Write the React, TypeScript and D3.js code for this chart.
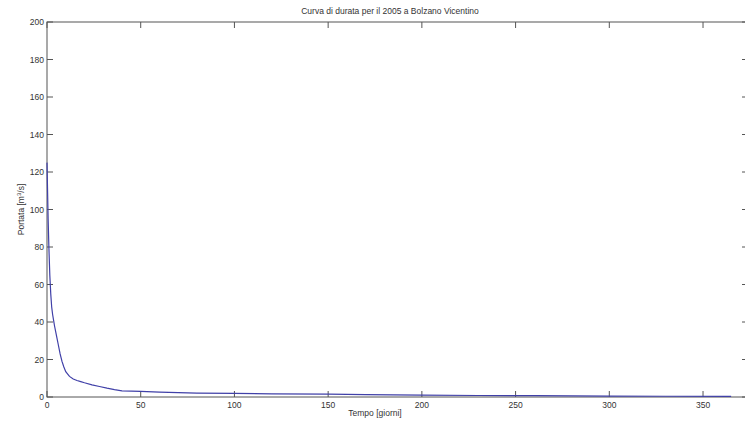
import React from "react";
import * as d3 from "d3";

// giorni e portata letti a occhio dalla curva di durata
const days = [0, 0.3, 0.6, 1, 1.5, 2, 2.5, 3, 3.5, 4, 5, 6, 7, 8, 9, 10, 12, 14, 16, 18, 20, 24, 28, 32, 36, 40, 45, 50, 60, 70, 80, 100, 120, 150, 170, 200, 230, 260, 300, 330, 365];
const flow = [125, 110, 95, 80, 65, 55, 48, 44, 41, 38, 33, 28, 23, 19, 16, 13.5, 11, 9.6, 8.8, 8.2, 7.6, 6.5, 5.6, 4.7, 3.9, 3.3, 3.1, 3.0, 2.6, 2.3, 2.1, 1.9, 1.7, 1.5, 1.3, 1.0, 0.8, 0.7, 0.5, 0.4, 0.3];
const xTicks = [0, 50, 100, 150, 200, 250, 300, 350];
const yTicks = [0, 20, 40, 60, 80, 100, 120, 140, 160, 180, 200];

const W = 745, H = 425;
const left = 47, right = 748, top = 22, bottom = 397;
const axisColor = "#555";
const font = "Liberation Sans, Arial, sans-serif";

export default function App() {
  const x = d3.scaleLinear().domain([0, 374]).range([left, right]);
  const y = d3.scaleLinear().domain([0, 200]).range([bottom, top]);
  const pts: [number, number][] = days.map((d, i) => [d, flow[i]]);
  const line = d3.line<[number, number]>().x(d => x(d[0])).y(d => y(d[1]));
  const tl = 6;

  return (
    <svg width={W} height={H} style={{ position: "absolute", left: 0, top: 0, background: "#fff" }}>
      <text x={390} y={14} fontSize={8.5} fontFamily={font} textAnchor="middle" fill="#333">
        Curva di durata per il 2005 a Bolzano Vicentino
      </text>
      <g stroke={axisColor} strokeWidth={1} fill="none">
        <rect x={left} y={top} width={right - left} height={bottom - top} />
        {xTicks.map(t => (
          <g key={"xt" + t}>
            <line x1={x(t)} x2={x(t)} y1={bottom} y2={bottom - tl} />
            <line x1={x(t)} x2={x(t)} y1={top} y2={top + tl} />
          </g>
        ))}
        {yTicks.map(t => (
          <g key={"yt" + t}>
            <line x1={left} x2={left + tl} y1={y(t)} y2={y(t)} />
            <line x1={right} x2={right - tl} y1={y(t)} y2={y(t)} />
          </g>
        ))}
      </g>
      <path d={line(pts) ?? ""} fill="none" stroke="#4040a8" strokeWidth={1.2} />
      <g fontFamily={font} fontSize={8.5} fill="#333">
        {xTicks.map(t => (
          <text key={"xl" + t} x={x(t)} y={bottom + 11} textAnchor="middle">{t}</text>
        ))}
        {yTicks.map(t => (
          <text key={"yl" + t} x={left - 3} y={y(t) + 3} textAnchor="end">{t}</text>
        ))}
      </g>
      <text x={375} y={416} fontSize={8.5} fontFamily={font} textAnchor="middle" fill="#333">
        Tempo [giorni]
      </text>
      <text transform={`translate(24,${(top + bottom) / 2}) rotate(-90)`} fontSize={8.5} fontFamily={font} textAnchor="middle" fill="#333">
        Portata [m<tspan dy={-3} fontSize={6}>3</tspan><tspan dy={3}>/s]</tspan>
      </text>
    </svg>
  );
}
